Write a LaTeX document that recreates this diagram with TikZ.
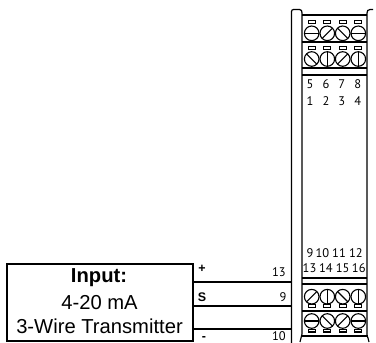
\documentclass[tikz,border=0pt]{standalone}
\usepackage{fontspec}
\setmainfont{Liberation Sans}
\newfontfamily\numfont{PT Sans}
\usetikzlibrary{calc}
\tikzset{
  px/.style={x=1pt,y=-1pt},
  edge/.style={draw=black,line width=1.2pt},
  thick edge/.style={draw=black,line width=2pt},
  wire/.style={draw=black,line width=1.6pt},
  screw/.style={draw=black,line width=1.1pt},
  num/.style={font=\numfont\fontsize{12.5}{14}\selectfont,inner sep=0pt,text=black},
  sign/.style={font=\bfseries\fontsize{12.5}{13}\selectfont,inner sep=0pt,text=black},
  boxtext/.style={font=\fontsize{20.2}{22}\selectfont,inner sep=0pt,text=black},
}
\newcommand{\screwcell}[3]{% x, y, angle
  \draw[screw] (#1-3.5,#2-12.5) rectangle (#1+3.5,#2-9.7);
  \draw[screw] (#1,#2) circle (7.3);
  \draw[screw] ($(#1,#2)+(#3:7.3)$) -- ($(#1,#2)+(#3+180:7.3)$);
}
\newcommand{\screwcellb}[3]{% x, y, angle
  \draw[screw] (#1-3.5,#2+8.2) rectangle (#1+3.5,#2+11);
  \draw[screw] (#1,#2) circle (7.3);
  \draw[screw] ($(#1,#2)+(#3:7.3)$) -- ($(#1,#2)+(#3+180:7.3)$);
}
\begin{document}
\begin{tikzpicture}[px]
\useasboundingbox (0,0) rectangle (376,343);
\fill[white] (0,0) rectangle (376,343);
% rails
\draw[edge] (291.5,343) -- (291.5,11.5) arc[start angle=180,end angle=270,radius=2] -- (299.5,9.5) .. controls (301.5,9.5) and (302,11) .. (302,13) -- (302,334) .. controls (302,338) and (300,338) .. (300,342);
\draw[edge] (373,9.5) -- (370,9.5) .. controls (368,9.5) and (367,11) .. (367,13) -- (367,334) .. controls (367,338) and (369,338) .. (369,342);
% horizontal lines
\draw[thick edge] (302,15) -- (367,15);
\draw[edge] (302,42) -- (367,42);
\draw[edge] (302,68) -- (367,68);
\draw[edge] (302,75) -- (367,75);
\draw[thick edge] (302,278) -- (367,278);
\draw[edge] (302,284) -- (367,284);
\draw[edge] (302,311) -- (367,311);
\draw[edge] (302,336) -- (367,336);
% screws top
\screwcell{311.7}{33.3}{0}
\screwcell{327.3}{33.3}{-45}
\screwcell{342.7}{33.3}{45}
\screwcell{358.3}{33.3}{0}
\screwcell{311.7}{59}{45}
\screwcell{327.3}{59}{90}
\screwcell{342.7}{59}{-45}
\screwcell{358.3}{59}{90}
% screws bottom
\screwcellb{311.7}{296.7}{-45}
\screwcellb{327.3}{296.7}{90}
\screwcellb{342.7}{296.7}{45}
\screwcellb{358.3}{296.7}{90}
\screwcellb{311.7}{321}{0}
\screwcellb{327.3}{321}{45}
\screwcellb{342.7}{321}{-45}
\screwcellb{358.3}{321}{0}
% numbers
\foreach \t/\x/\y in {5/310/84,6/326/84,7/341.7/84,8/357.7/84,1/310/101,2/326/101,3/341.7/101,4/357.7/101,
 9/310/253,10/322.5/253,11/339/253,12/356/253,13/309.5/268.5,14/326/268.5,15/342.7/268.5,16/358.8/268.5}
  \node[num] (n\t) at (\x,\y) {\t};
% box
\node[draw=black,line width=2pt,outer sep=0pt,minimum width=186pt,minimum height=77pt,inner sep=0pt,anchor=north west,fill=white] (box) at (6.5,263.5) {};
\node[boxtext,font=\bfseries\fontsize{20.2}{22}\selectfont] (l1) at (99,277.5) {Input:};
\node[boxtext] (l2) at (99.5,302.5) {4-20 mA};
\node[boxtext] (l3) at (99.5,326) {3-Wire Transmitter};
% wires
\coordinate (w1) at (291.5,281.7);
\coordinate (w2) at (291.5,305.7);
\coordinate (w3) at (291.5,329);
\draw[wire] (box.east |- w1) -- (w1);
\draw[wire] (box.east |- w2) -- (w2);
\draw[wire] (box.east |- w3) -- (w3);
% wire labels
\node[sign] (plus) at (202,269) {+};
\node[sign] (s) at (202,297) {S};
\node[sign] (minus) at (204,338.5) {-};
\node[num] (t13) at (279,272.5) {13};
\node[num] (t9) at (283,297) {9};
\node[num] (t10) at (279,336.5) {10};
\end{tikzpicture}
\end{document}
